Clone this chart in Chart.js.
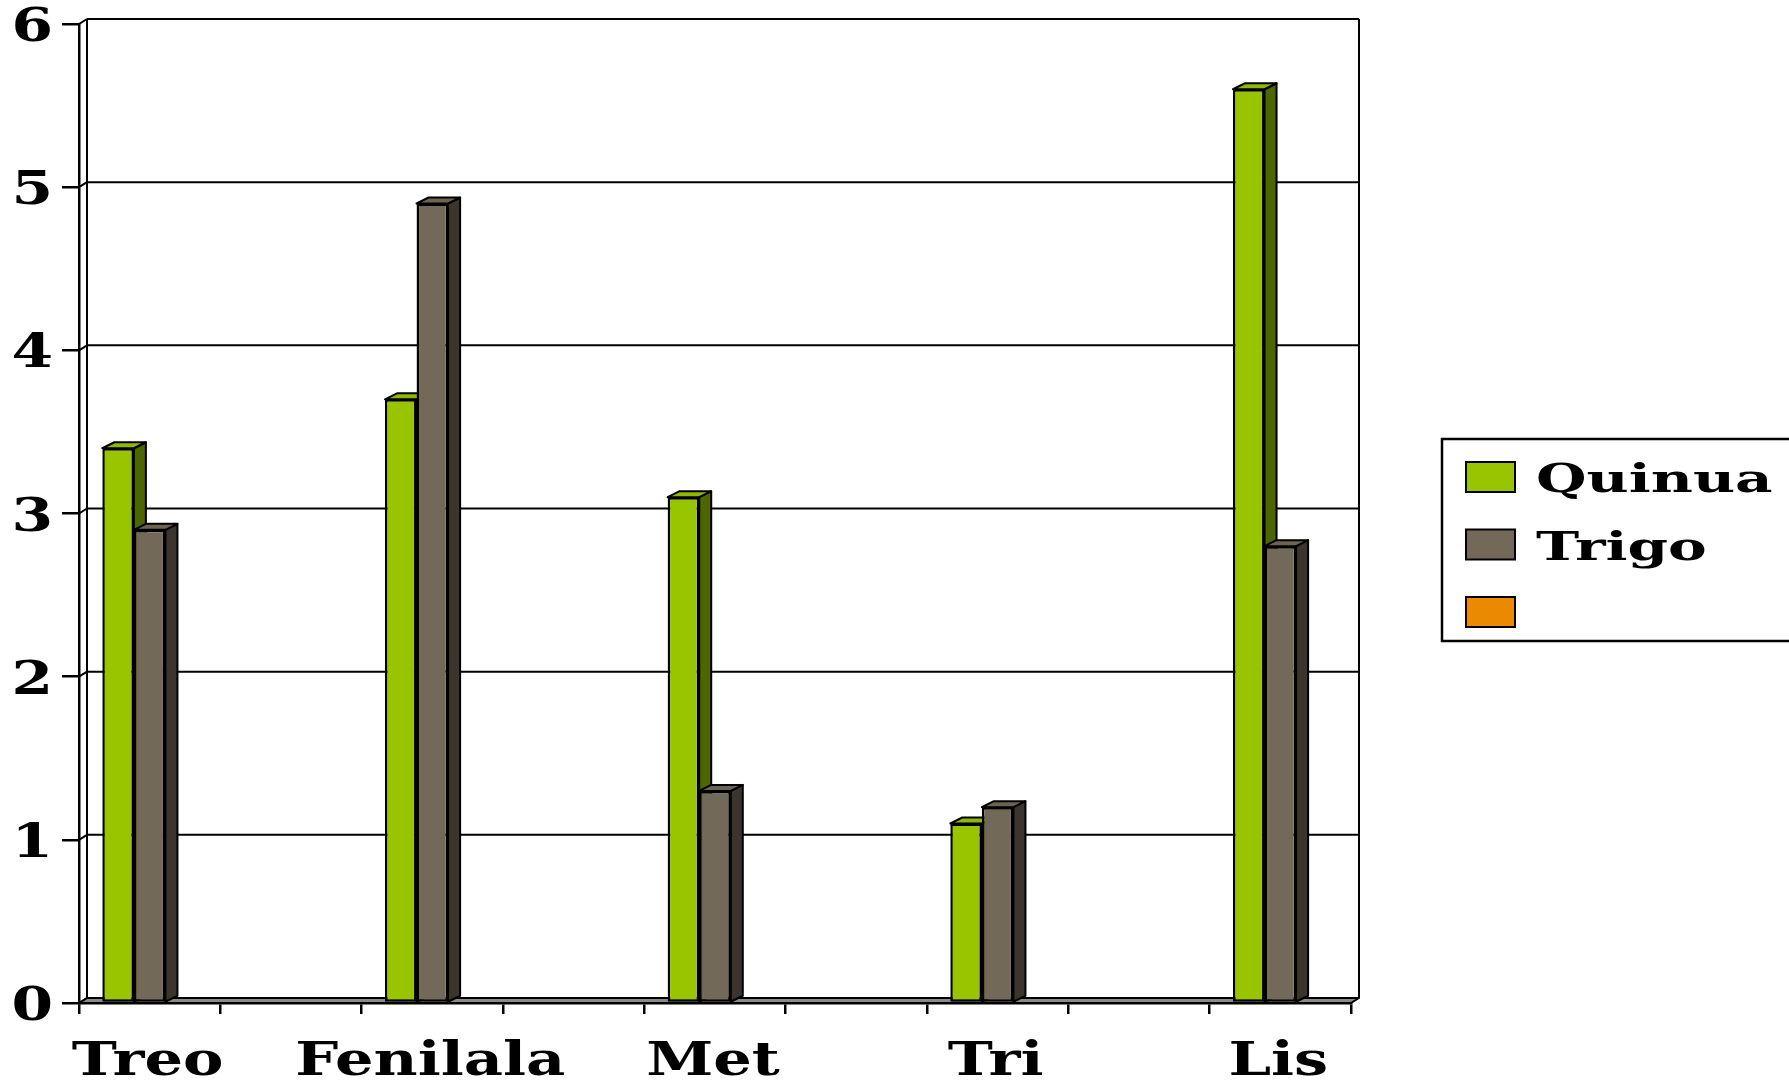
<!DOCTYPE html>
<html>
<head>
<meta charset="utf-8">
<script src="https://cdn.jsdelivr.net/npm/chart.js@4.4.1/dist/chart.umd.min.js"></script>
<style>
  html, body { margin: 0; padding: 0; background: #fff; overflow: hidden; }
  canvas { display: block; }
</style>
</head>
<body>
<canvas id="chart" width="1789" height="1081"></canvas>
<script>
// Amino acid content, quinoa vs wheat
const categories = ['Treo', '', 'Fenilala', '', 'Met', '', 'Tri', '', 'Lis'];
const quinua  = [3.4, null, 3.7, null, 3.1, null, 1.1, null, 5.6];
const trigo   = [2.9, null, 4.9, null, 1.3, null, 1.2, null, 2.8];
const tercera = [null, null, null, null, null, null, null, null, null];
const seriesNames = ['Quinua', 'Trigo', ''];
const yTickValues = [0, 1, 2, 3, 4, 5, 6];

// face colours per series: front, side, top
const FRONT = ['#99c400', '#736959', '#e98a00'];
const SIDE  = ['#4e6600', '#3c352d', '#7a4800'];
const TOP   = ['#8fb800', '#6c6353', '#d07a00'];

const FONT = '"DejaVu Serif", "Liberation Serif", serif';
const BAR_DX = 12, BAR_DY = -6;   // bar depth
const WALL_DX = 8, WALL_DY = -5;  // wall/floor depth

function line(ctx, x1, y1, x2, y2) {
  ctx.beginPath(); ctx.moveTo(x1, y1); ctx.lineTo(x2, y2); ctx.stroke();
}
function poly(ctx, pts, fill) {
  ctx.beginPath();
  ctx.moveTo(pts[0][0], pts[0][1]);
  for (let i = 1; i < pts.length; i++) ctx.lineTo(pts[i][0], pts[i][1]);
  ctx.closePath();
  ctx.fillStyle = fill; ctx.fill(); ctx.stroke();
}
function wideText(ctx, text, x, y, sx, align) {
  ctx.save();
  ctx.translate(x, y);
  ctx.scale(sx, 1);
  ctx.textAlign = align;
  ctx.textBaseline = 'alphabetic';
  ctx.fillText(text, 0, 0);
  ctx.restore();
}

const box3d = {
  id: 'box3d',
  beforeDraw(chart) {
    const { ctx, chartArea: a, scales: { y } } = chart;
    ctx.save();
    ctx.fillStyle = '#fff';
    ctx.fillRect(0, 0, chart.width, chart.height);
    ctx.strokeStyle = '#000';
    ctx.lineJoin = 'round';
    // floor
    ctx.lineWidth = 2;
    poly(ctx, [[a.left, a.bottom], [a.left + WALL_DX, a.bottom + WALL_DY],
               [a.right + WALL_DX, a.bottom + WALL_DY], [a.right, a.bottom]], '#8a8a8a');
    // back wall gridlines and side-wall connectors
    ctx.lineWidth = 2;
    y.ticks.forEach(t => {
      const py = y.getPixelForValue(t.value);
      if (t.value > 0) line(ctx, a.left + WALL_DX, py + WALL_DY, a.right + WALL_DX, py + WALL_DY);
      line(ctx, a.left, py, a.left + WALL_DX, py + WALL_DY);
    });
    line(ctx, a.left + WALL_DX, a.top + WALL_DY, a.left + WALL_DX, a.bottom + WALL_DY);
    line(ctx, a.right + WALL_DX, a.top + WALL_DY, a.right + WALL_DX, a.bottom + WALL_DY);
    ctx.restore();
  },
  beforeDatasetsDraw(chart) {
    const { ctx } = chart;
    ctx.save();
    ctx.strokeStyle = '#000';
    ctx.lineWidth = 2;
    ctx.lineJoin = 'round';
    chart.data.datasets.forEach((ds, di) => {
      const meta = chart.getDatasetMeta(di);
      meta.data.forEach((el, i) => {
        if (ds.data[i] == null) return;
        const p = el.getProps(['x', 'y', 'base', 'width'], true);
        const x0 = p.x - p.width / 2, x1 = p.x + p.width / 2;
        poly(ctx, [[x1, p.y], [x1 + BAR_DX, p.y + BAR_DY], [x1 + BAR_DX, p.base + BAR_DY], [x1, p.base]], SIDE[di]);
        poly(ctx, [[x0, p.y], [x0 + BAR_DX, p.y + BAR_DY], [x1 + BAR_DX, p.y + BAR_DY], [x1, p.y]], TOP[di]);
      });
    });
    ctx.restore();
  },
  afterDraw(chart) {
    const { ctx, scales: { x, y } } = chart;
    ctx.save();
    ctx.fillStyle = '#000';
    // value axis labels
    ctx.font = 'bold 46px ' + FONT;
    y.ticks.forEach(t => {
      wideText(ctx, String(t.value), 53, y.getPixelForValue(t.value) + 17, 1.3, 'right');
    });
    // category labels
    ctx.font = 'bold 47px ' + FONT;
    chart.data.labels.forEach((lab, i) => {
      if (!lab) return;
      wideText(ctx, lab, x.getPixelForValue(i) - 2, 1075, 1.29, 'center');
    });
    // legend
    ctx.strokeStyle = '#000';
    ctx.lineWidth = 2.5;
    ctx.strokeRect(1442, 439, 400, 202);
    ctx.font = 'bold 40px ' + FONT;
    chart.data.datasets.forEach((ds, di) => {
      const cy = 477 + di * 67.5;
      ctx.lineWidth = 2;
      ctx.fillStyle = FRONT[di];
      ctx.fillRect(1466, cy - 15, 49, 30);
      ctx.strokeRect(1466, cy - 15, 49, 30);
      ctx.fillStyle = '#000';
      if (ds.label) wideText(ctx, ds.label, 1536, cy + 15, 1.45, 'left');
    });
    ctx.restore();
  }
};

const seriesData = [quinua, trigo, tercera];

new Chart(document.getElementById('chart'), {
  type: 'bar',
  data: {
    labels: categories,
    datasets: seriesData.map((d, i) => ({
      label: seriesNames[i],
      data: d,
      backgroundColor: FRONT[i],
      borderColor: '#000',
      borderWidth: 2.5,
      borderSkipped: false,
      categoryPercentage: 0.67,
      barPercentage: 1.0
    }))
  },
  options: {
    responsive: false,
    devicePixelRatio: 1,
    animation: false,
    layout: { padding: { left: 0, top: 24, right: 438, bottom: 0 } },
    plugins: { legend: { display: false }, tooltip: { enabled: false } },
    scales: {
      x: {
        type: 'category',
        offset: true,
        ticks: { display: false },
        grid: { offset: true, drawOnChartArea: false, drawTicks: true, tickLength: 11, color: '#000', lineWidth: 2.5 },
        border: { display: true, color: '#000', width: 2.5 },
        afterFit(scale) { scale.height = 78; }
      },
      y: {
        min: 0, max: 6,
        afterBuildTicks(scale) { scale.ticks = yTickValues.map(v => ({ value: v })); },
        ticks: { display: false },
        grid: { drawOnChartArea: false, drawTicks: true, tickLength: 17, color: '#000', lineWidth: 2.5 },
        border: { display: true, color: '#000', width: 2.5 },
        afterFit(scale) { scale.width = 79; }
      }
    }
  },
  plugins: [box3d]
});
</script>
</body>
</html>
